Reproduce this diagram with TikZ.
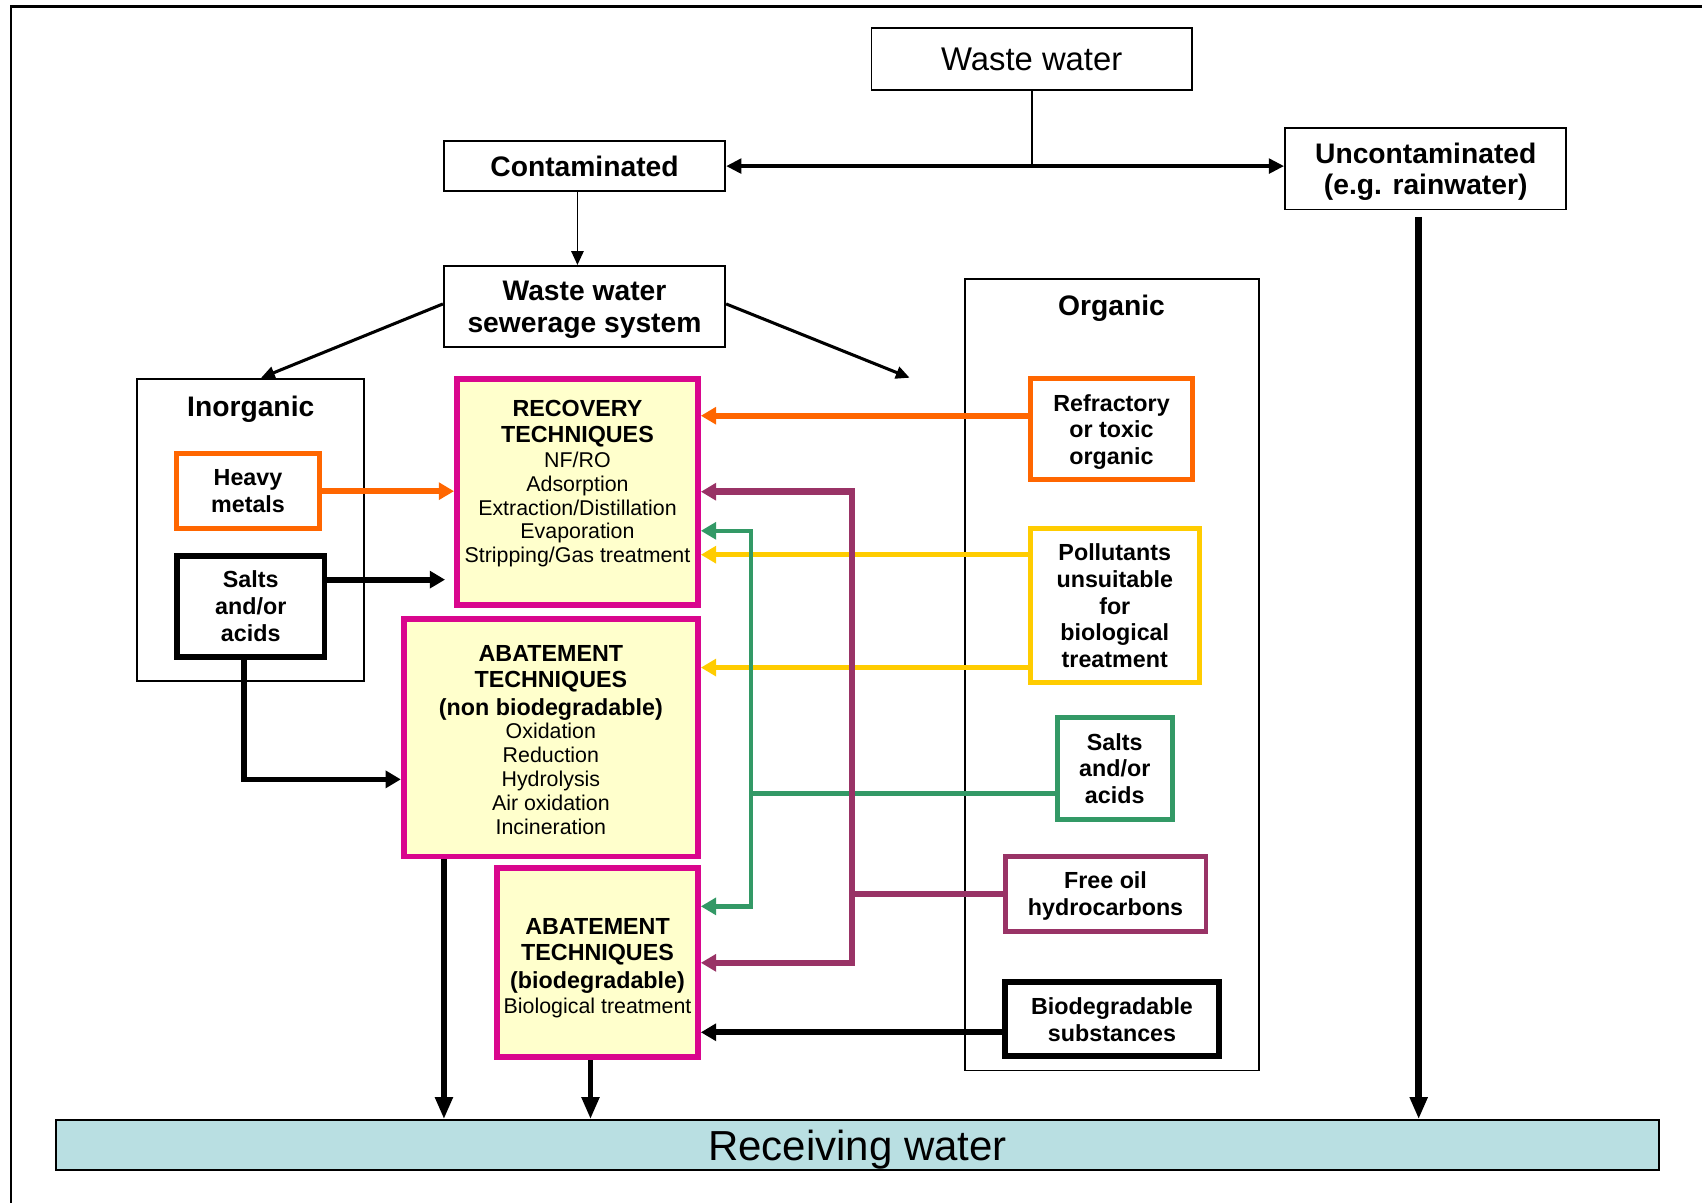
\documentclass[tikz,border=0pt]{standalone}
\usepackage{fontspec}
\setmainfont{Liberation Sans}
\usetikzlibrary{arrows.meta}

\definecolor{hmorange}{HTML}{FF6600}
\definecolor{techmag}{HTML}{D9068D}
\definecolor{techfill}{HTML}{FFFFCC}
\definecolor{polyellow}{HTML}{FFCC00}
\definecolor{saltgreen}{HTML}{339966}
\definecolor{oilplum}{HTML}{993366}
\definecolor{recvblue}{HTML}{B9DFE2}

\newcommand{\wwfont}{\fontsize{8.6}{10}\selectfont}
\newcommand{\headfont}{\bfseries\fontsize{7.4}{8.25}\selectfont}
\newcommand{\srcfont}{\bfseries\fontsize{6.1}{7}\selectfont}
\newcommand{\techhead}{\bfseries\fontsize{6.1}{6.26}\selectfont}
\newcommand{\technorm}{\fontsize{5.6}{6.26}\selectfont}
\newcommand{\recvfont}{\fontsize{11}{13}\selectfont}

\tikzset{
  plainbox/.style={draw, line width=0.5pt, inner sep=0pt, align=center, text depth=0pt},
  groupbox/.style={draw, line width=0.45pt, inner sep=0pt},
  srcbox/.style={draw=#1, line width=1.3pt, inner sep=0pt, align=center, font=\srcfont, text depth=0pt},
  techbox/.style={draw=techmag, fill=techfill, line width=1.5pt, inner sep=0pt},
  techtext/.style={font=\technorm, align=center, inner sep=0pt},
  flow/.style={draw=#1, line width=1.3pt, ->},
  thinarrow/.style={line width=#1, >={Triangle[length=3.6pt,width=3.2pt]}, ->},
  downarrow/.style={line width=1.5pt, >={Triangle[length=5.8pt,width=4.4pt]}, ->},
}

\begin{document}
\begin{tikzpicture}[x=0.01cm, y=-0.01cm, >={Triangle[length=4pt,width=4.4pt]}]
            \useasboundingbox (0,0) rectangle (1568,1108);
            \draw[line width=0.7pt] (10,1108) -- (10,6) -- (1568,6);

            % top of the tree
            \node[plainbox, minimum width=2.95cm, minimum height=0.57cm, font=\wwfont] (waste) at (950.5,54.5) {Waste water};
            \node[plainbox, minimum width=2.59cm, minimum height=0.46cm, font=\headfont] (contam) at (538.5,153) {Contaminated};
            \node[plainbox, minimum width=2.59cm, minimum height=0.75cm, font=\headfont] (uncontam) at (1313.5,155.5) {Uncontaminated\\(e.g. rainwater)};
            \node[plainbox, minimum width=2.59cm, minimum height=0.75cm, font=\headfont] (sewer) at (538.5,282.5) {Waste water\\sewerage system};

            % groups
            \node[groupbox, minimum width=2.09cm, minimum height=2.78cm] (inorg) at (230.5,488) {};
            \node[font=\headfont, text depth=0pt] (inorgtitle) at (231,374) {Inorganic};
            \node[groupbox, minimum width=2.71cm, minimum height=7.29cm] (org) at (1024.5,621.5) {};
            \node[font=\headfont, text depth=0pt] (orgtitle) at (1024,281) {Organic};

            \node[srcbox=hmorange, minimum width=1.31cm, minimum height=0.69cm] (heavy) at (228.5,452.5) {Heavy\\metals};
            \node[srcbox=black, line width=1.5pt, minimum width=1.36cm, minimum height=0.93cm] (saltsin) at (231,558.5) {Salts\\and/or\\acids};
            \node[srcbox=hmorange, minimum width=1.5cm, minimum height=0.93cm] (refrac) at (1024,395.5) {Refractory\\or toxic\\organic};
            \node[srcbox=polyellow, minimum width=1.56cm, minimum height=1.42cm] (pollut) at (1027,558) {Pollutants\\unsuitable\\for\\biological\\treatment};
            \node[srcbox=saltgreen, minimum width=1.06cm, minimum height=0.94cm] (saltsorg) at (1027,708) {Salts\\and/or\\acids};
            \node[srcbox=oilplum, minimum width=1.85cm, minimum height=0.69cm] (freeoil) at (1018.5,823.5) {Free oil\\hydrocarbons};
            \node[srcbox=black, line width=1.5pt, minimum width=1.97cm, minimum height=0.68cm] (biodeg) at (1024.5,939) {Biodegradable\\substances};

            % techniques
            \node[techbox, minimum width=2.22cm, minimum height=2.08cm] (recov) at (532,453) {};
            \node[techtext] (recovtxt) at (532,445.5) {{\techhead RECOVERY}\\[0.57pt]{\techhead TECHNIQUES}\\[0.28pt]NF/RO\\Adsorption\\Extraction/Distillation\\Evaporation\\Stripping/Gas treatment};
            \node[techbox, minimum width=2.71cm, minimum height=2.19cm] (abnon) at (507.5,679.5) {};
            \node[techtext] (abnontxt) at (507.5,682) {{\techhead ABATEMENT}\\[0.57pt]{\techhead TECHNIQUES}\\[0.85pt]{\techhead (non biodegradable)}\\Oxidation\\Reduction\\Hydrolysis\\Air oxidation\\Incineration};
            \node[techbox, minimum width=1.85cm, minimum height=1.74cm] (abbio) at (550.5,887) {};
            \node[techtext] (abbiotxt) at (550.5,892) {{\techhead ABATEMENT}\\[0.57pt]{\techhead TECHNIQUES}\\[0.85pt]{\techhead (biodegradable)}\\[0.3pt]Biological treatment};

            \node[draw, fill=recvblue, line width=0.5pt, minimum width=14.76cm, minimum height=0.46cm, inner sep=0pt, text depth=0pt, font=\recvfont] (receiv) at (790,1055) {Receiving water};

            % split of the waste water
            \coordinate (split) at (waste.south |- contam.east);
            \draw[line width=0.45pt] (waste.south) -- (split);
            \draw[line width=1pt, >={Triangle[length=4pt,width=3.8pt]}, <->] (contam.east) -- (uncontam.west |- contam.east);
            \draw[thinarrow=0.45pt] (contam.south -| 532,0) -- (sewer.north -| 532,0);
            \coordinate (orgentry) at (838,348);
            \draw[thinarrow=0.8pt] (sewer.west |- 0,280) -- ([xshift=0.1cm]inorg.north);
            \draw[thinarrow=0.8pt] (sewer.east |- 0,280) -- (orgentry);

            % inorganic side
            \draw[flow=hmorange, line width=1.55pt] (heavy.east) -- (recov.west |- heavy.east);
            \coordinate (recovgap) at (410,534);
            \draw[flow=black, line width=1.5pt] (saltsin.east |- recovgap) -- (recovgap);
            \draw[flow=black, line width=1.5pt] (saltsin.south -| 225,0) |- (abnon.west |- 0,718);

            % organic side
            \draw[flow=hmorange, line width=1.55pt] (refrac.west |- 0,383) -- (recov.east |- 0,383);
            \draw[flow=polyellow] (pollut.west |- 0,511) -- (recov.east |- 0,511);
            \draw[flow=polyellow] (pollut.west |- 0,615) -- (abnon.east |- 0,615);
            \coordinate (gup) at (692,489);
            \coordinate (gdown) at (692,835);
            \draw[flow=saltgreen, line width=1.2pt, <->] (recov.east |- gup) -- (gup) -- (gdown) -- (abbio.east |- gdown);
            \draw[flow=saltgreen, line width=1.2pt, -] (saltsorg.west |- 0,731) -- (gup |- 0,731);
            \coordinate (pup) at (785,453);
            \coordinate (pdown) at (785,887);
            \draw[flow=oilplum, line width=1.7pt, <->] (recov.east |- pup) -- (pup) -- (pdown) -- (abbio.east |- pdown);
            \draw[flow=oilplum, line width=1.7pt, -] (freeoil.west) -- (pup |- freeoil.west);
            \draw[flow=black, line width=1.5pt] (biodeg.west |- 0,951) -- (abbio.east |- 0,951);

            % to the receiving water
            \draw[downarrow] (abnon.south -| 409,0) -- (receiv.north -| 409,0);
            \draw[downarrow] (abbio.south -| 544,0) -- (receiv.north -| 544,0);
            \draw[downarrow, line width=1.7pt, shorten <=0.06cm] (uncontam.south -| 1307,0) -- (receiv.north -| 1307,0);
        \end{tikzpicture}
\end{document}
